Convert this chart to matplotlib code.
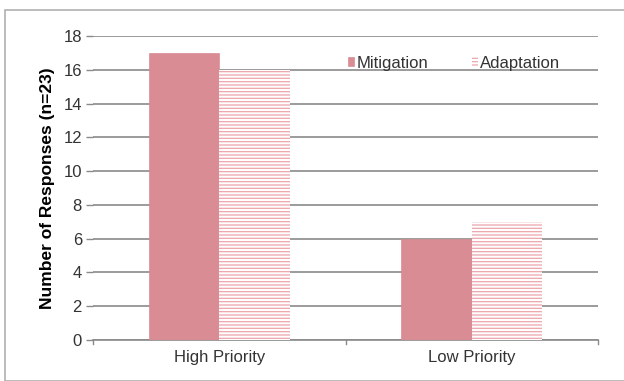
import matplotlib
matplotlib.use("Agg")
import matplotlib.pyplot as plt
import numpy as np
from matplotlib.patches import Rectangle

plt.rcParams['font.family'] = ['Liberation Sans', 'DejaVu Sans']
plt.rcParams['hatch.linewidth'] = 0.9

categories = ["High Priority", "Low Priority"]
mitigation = [17, 6]
adaptation = [16, 7]
yticks = [0, 2, 4, 6, 8, 10, 12, 14, 16, 18]

fig = plt.figure(figsize=(6.24, 3.81), dpi=100)
fig.patch.set_facecolor('white')
# outer frame
fig.patches.append(Rectangle((5/624, 0), 1.0, 1 - 10/381, transform=fig.transFigure,
                             fill=False, edgecolor='#b0b0b0', linewidth=1.2))

ax = fig.add_axes([93/624, 1 - 340/381, (598 - 93)/624, (340 - 36)/381])
x = np.arange(len(categories))
w = 0.28
ax.bar(x - w/2, mitigation, width=w, color='#d98c93', edgecolor='#d98c93', linewidth=0.5,
       label='Mitigation', zorder=3)
ax.bar(x + w/2, adaptation, width=w, color='white', edgecolor='#eda5ad', hatch='-----',
       linewidth=0, label='Adaptation', zorder=3)

ax.set_xlim(-0.5, 1.5)
ax.set_ylim(0, 18)
ax.set_yticks(yticks)
ax.set_xticks(x)
ax.set_xticklabels(categories, fontsize=12, color='#333333')
ax.tick_params(axis='y', labelsize=12, colors='#333333', length=5, width=1, pad=3)
ax.tick_params(axis='x', length=0, pad=7)
ax.yaxis.grid(True, color='#8a8a8a', linewidth=1.2, zorder=0)
ax.set_axisbelow(True)
for s in ['top', 'right', 'left']:
    ax.spines[s].set_visible(False)
ax.spines['bottom'].set_color('#8a8a8a')
ax.spines['bottom'].set_linewidth(1.2)
ax.tick_params(axis='y', color='#8a8a8a')
# small category-boundary ticks on x axis
for xb in [-0.5, 0.5, 1.5]:
    ax.plot([xb, xb], [0, -0.25], color='#8a8a8a', lw=1, clip_on=False)

ax.set_ylabel('Number of Responses (n=23)', fontsize=12.5, fontweight='bold', labelpad=6)

leg = ax.legend(loc='upper right', bbox_to_anchor=(0.955, 0.985), ncol=2, frameon=False,
                fontsize=12, handlelength=0.35, handleheight=0.5, handletextpad=0.15,
                columnspacing=2.6)
for t in leg.get_texts():
    t.set_color('#333333')

fig.savefig('out.png', dpi=100)
